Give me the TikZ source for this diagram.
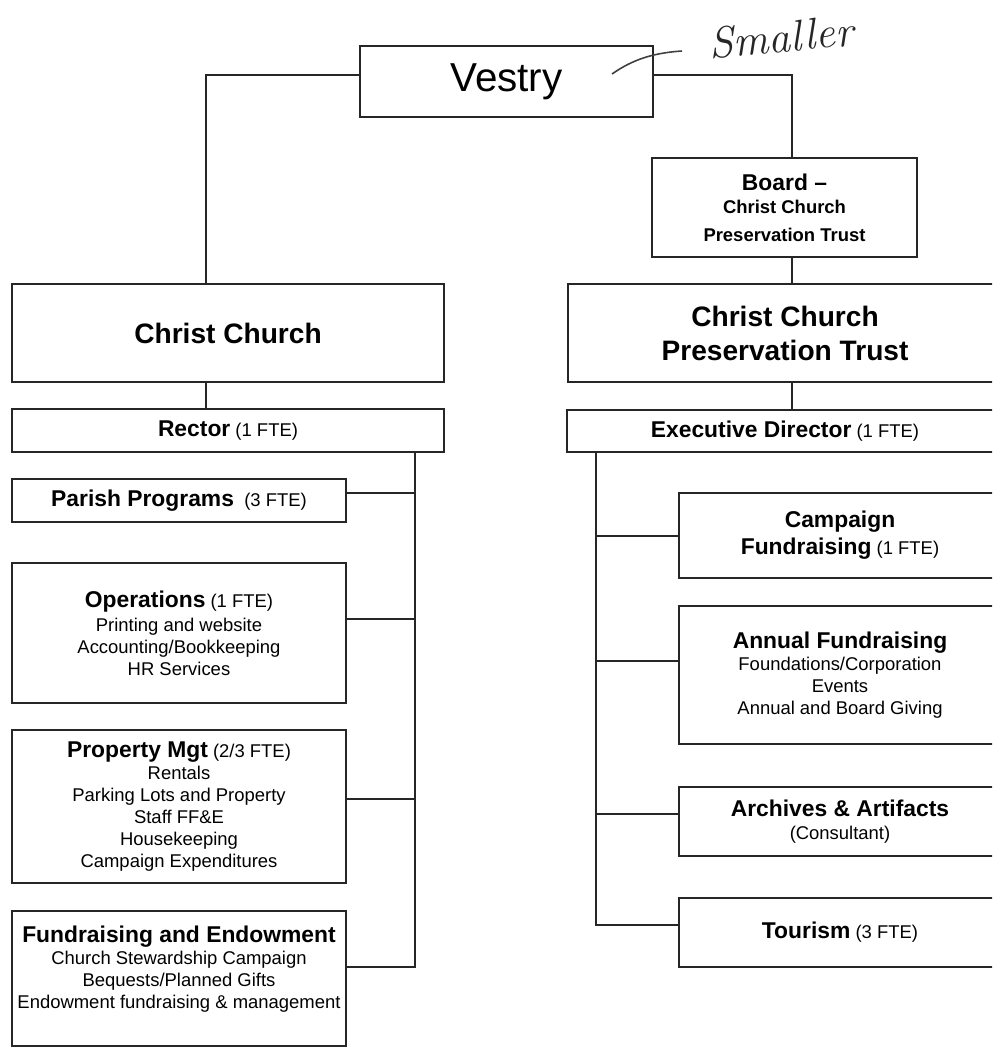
\documentclass[tikz,border=0pt]{standalone}
\usepackage{fontspec}
\setsansfont{Liberation Sans}
\renewcommand{\familydefault}{\sfdefault}
\newcommand\hd[1]{{\fontsize{13}{15}\selectfont\bfseries #1}}

\begin{document}
\begin{tikzpicture}[x=0.02cm, y=-0.02cm,
            box/.style={draw=black!85, line width=1pt, inner sep=0pt, align=center,
              font=\fontsize{10.5}{12.5}\selectfont},
            link/.style={draw=black!85, line width=0.8pt}]
        \useasboundingbox (0,0) rectangle (992,1049);
        \clip (0,0) rectangle (992,1049);
        \node[box, minimum width=5.86cm, minimum height=1.42cm,
            font=\fontsize{23}{27}\selectfont] (vestry) at (506.5,81.5) {Vestry};
        \node[box, minimum width=5.3cm, minimum height=1.98cm] (board) at (784.5,207.5)
            {\hd{Board --}\\[1pt]{\bfseries Christ Church}\\[3pt]{\bfseries Preservation Trust}};
        \node[box, minimum width=8.64cm, minimum height=1.96cm,
            font=\fontsize{16}{19}\selectfont\bfseries] (church) at (228,333) {Christ Church};
        \node[box, minimum width=8.68cm, minimum height=1.96cm,
            font=\fontsize{16}{19.3}\selectfont\bfseries] (trust) at (785,333)
            {Christ Church\\Preservation Trust};
        \node[box, minimum width=8.64cm, minimum height=0.86cm] (rector) at (228,430.5)
            {\hd{Rector} (1 FTE)};
        \node[box, minimum width=8.72cm, minimum height=0.84cm] (director) at (785,431)
            {\hd{Executive Director} (1 FTE)};
        \node[box, minimum width=6.68cm, minimum height=0.86cm] (parish) at (179,500.5)
            {\hd{Parish Programs}~ (3 FTE)};
        \node[box, minimum width=6.68cm, minimum height=2.8cm] (operations) at (179,633)
            {\hd{Operations} (1 FTE)\\[1pt]Printing and website\\Accounting/Bookkeeping\\HR Services};
        \node[box, minimum width=6.68cm, minimum height=3.06cm] (property) at (179,806.5)
            {\hd{Property Mgt} (2/3 FTE)\\Rentals\\Parking Lots and Property\\Staff FF\&E\\Housekeeping\\Campaign Expenditures};
        \node[box, minimum width=6.68cm, minimum height=2.7cm] (fundraising) at (179,978.5)
            {\hd{Fundraising and Endowment}\\Church Stewardship Campaign\\Bequests/Planned Gifts\\Endowment fundraising \& management\\\mbox{}};
        \node[box, minimum width=6.44cm, minimum height=1.7cm] (campaign) at (840,535.5)
            {\hd{Campaign}\\[3pt]\hd{Fundraising} (1 FTE)};
        \node[box, minimum width=6.44cm, minimum height=2.76cm] (annual) at (840,675)
            {\hd{Annual Fundraising}\\Foundations/Corporation\\Events\\Annual and Board Giving};
        \node[box, minimum width=6.44cm, minimum height=1.38cm] (archives) at (840,821.5)
            {\hd{Archives \& Artifacts}\\[1pt](Consultant)};
        \node[box, minimum width=6.44cm, minimum height=1.38cm] (tourism) at (840,932.5)
            {\hd{Tourism} (3 FTE)};
        \node[font=\rmfamily\itshape\fontsize{25}{25}\selectfont, text=black!85, rotate=5]
            (note) at (781,37) {Smaller};
        \coordinate (vl) at (206,75);
        \coordinate (vr) at (792,75);
        \coordinate (rb) at (415,452);
        \coordinate (db) at (596,452);
        \draw[link] (vestry.west |- vl) -- (vl) -- (church.north -| vl);
        \draw[link] (vestry.east |- vr) -- (vr) -- (board.north -| vr);
        \draw[link] (board.south -| vr) -- (trust.north -| vr);
        \draw[link] (church.south -| vl) -- (rector.north -| vl);
        \draw[link] (trust.south -| vr) -- (director.north -| vr);
        \draw[link] (rb) |- ([yshift=0.15cm]parish.east);
        \draw[link] (rb) |- ([yshift=0.28cm]operations.east);
        \draw[link] (rb) |- ([yshift=0.15cm]property.east);
        \draw[link] (rb) |- ([yshift=0.23cm]fundraising.east);
        \draw[link] (db) |- ([yshift=-0.01cm]campaign.west);
        \draw[link] (db) |- ([yshift=0.28cm]annual.west);
        \draw[link] (db) |- ([yshift=0.15cm]archives.west);
        \draw[link] (db) |- ([yshift=0.15cm]tourism.west);
        \draw[black!75, line width=0.9pt] (612,74) .. controls (632,60) and (652,53) .. (682,51);
        \end{tikzpicture}
\end{document}
